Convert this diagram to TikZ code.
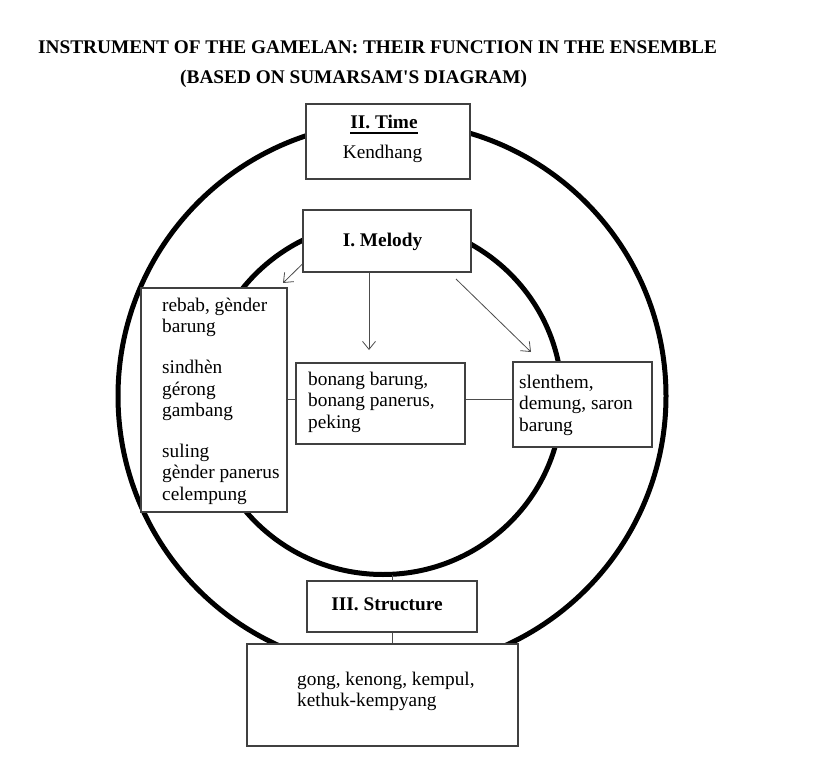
\documentclass[tikz,border=0pt]{standalone}
\usepackage{fontspec}
\setmainfont{Liberation Serif}
\usetikzlibrary{arrows.meta}
\newcommand{\ulbold}[1]{{\setbox0\hbox{#1}\rlap{\rule[-4.8pt]{\wd0}{1.4pt}}\box0}}
\begin{document}
\begin{tikzpicture}[x=1pt,y=-1pt,
  box/.style={draw=black!75, line width=1.2pt, fill=white, rectangle, inner sep=0pt},
  txt/.style={inner sep=0pt, font=\fontsize{19.3}{21.5}\selectfont, align=left},
  btxt/.style={inner sep=0pt, font=\fontsize{19.3}{21.5}\selectfont\bfseries},
  ring/.style={draw=black, line width=5pt},
  link/.style={draw=black!70, line width=0.8pt},
  arr/.style={link, -{Straight Barb[length=8pt,width=13pt]}}]
\fill[white] (0,0) rectangle (814,773);
\useasboundingbox (0,0) rectangle (814,773);

% title
\node[btxt, anchor=base west] (title1) at (38,53.5) {INSTRUMENT OF THE GAMELAN: THEIR FUNCTION IN THE ENSEMBLE};
\node[btxt, anchor=base west] (title2) at (180,83.5) {(BASED ON SUMARSAM\textquotesingle S DIAGRAM)};

% rings
\draw[ring] (392,396) circle[radius=274];
\draw[ring] (383,398) ellipse[x radius=179, y radius=176.5];

% boxes
\node[box, minimum width=164pt, minimum height=75pt] (time) at (388,141.5) {};
\node[box, minimum width=168pt, minimum height=62pt] (melody) at (387,241) {};
\node[box, minimum width=146pt, minimum height=224pt] (rebab) at (214,400) {};
\node[box, minimum width=169pt, minimum height=81pt] (bonang) at (380.5,403.5) {};
\node[box, minimum width=139pt, minimum height=85pt] (slenthem) at (582.5,404.5) {};
\node[box, minimum width=170pt, minimum height=51pt] (structure) at (392,606.5) {};
\node[box, minimum width=271pt, minimum height=102pt] (gong) at (382.5,695) {};

% texts
\node[btxt, anchor=base] (timelabel) at (384,129) {\ulbold{II. Time}};
\node[txt, anchor=base] (kendhang) at (382.5,159) {Kendhang};
\node[btxt, anchor=base] (melodylabel) at (382.5,246.5) {I. Melody};
\node[btxt, anchor=base] (structurelabel) at (387,610.5) {III. Structure};
\node[txt, anchor=north west] (rebabtext) at (162,296) {\rule{0pt}{15pt}rebab, gènder\\barung\\[19.5pt]sindhèn\\gérong\\gambang\\[19pt]suling\\gènder panerus\\celempung};
\node[txt, anchor=north west] (bonangtext) at (308,370) {\rule{0pt}{15pt}bonang barung,\\bonang panerus,\\peking};
\node[txt, anchor=north west] (slenthemtext) at (519,373) {\rule{0pt}{15pt}slenthem,\\demung, saron\\barung};
\node[txt, anchor=north west] (gongtext) at (297,670) {\rule{0pt}{15pt}gong, kenong, kempul,\\kethuk-kempyang};

% connectors
\coordinate (tipL) at (283,283);
\coordinate (tipM) at (369,350);
\coordinate (startR) at (456,279);
\coordinate (tipR) at (531,352);
\coordinate (ringbottom) at (392,574.5);
\draw[arr] ([yshift=-23pt]melody.west) -- (tipL);
\draw[arr] (melody.south -| tipM) -- (tipM);
\draw[arr] (startR) -- (tipR);
\draw[link] ([yshift=4.5pt]bonang.west) -- ([yshift=4.5pt]bonang.west -| rebab.east);
\draw[link] ([yshift=4.5pt]bonang.east) -- ([yshift=4.5pt]bonang.east -| slenthem.west);
\draw[link] (structure.north) -- (ringbottom);
\draw[link] (structure.south) -- (structure.south |- gong.north);
\end{tikzpicture}
\end{document}
